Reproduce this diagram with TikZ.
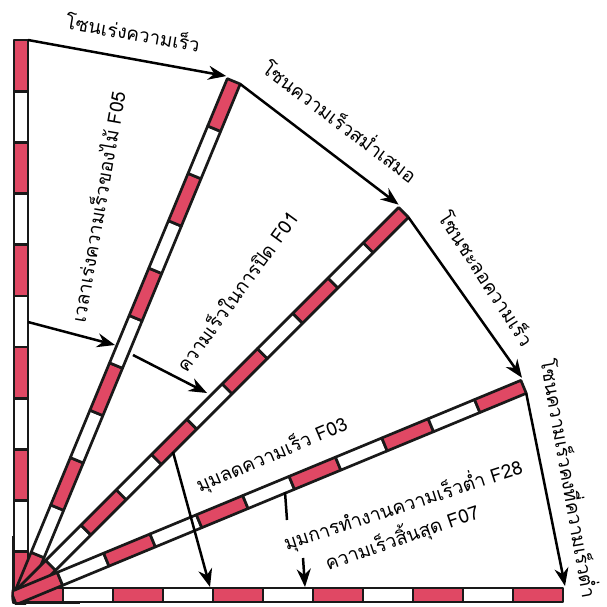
\documentclass[tikz,border=0pt]{standalone}
\usepackage{fontspec}
\newfontfamily\thaifont[Script=Thai]{Loma}
\usetikzlibrary{arrows.meta}
\definecolor{barred}{RGB}{224,72,100}
\tikzset{
  zonearrow/.style={line width=2.5pt,-{Stealth[length=18pt,width=14pt]}},
  zonetext/.style={font=\thaifont\fontsize{19}{22}\selectfont,inner sep=0pt},
  barpart/.style={line width=2.7pt,draw=black!90,line join=round}
}
\begin{document}
\begin{tikzpicture}[x=1pt,y=1pt]
  \useasboundingbox (0,0) rectangle (607,606);

  % the five bars, all turning round one corner
  \begin{scope}
    \clip (11.5,1.5) rectangle (607,606);
    \foreach \n/\ang/\len in {bE/0/542, bA/90/555, bB/67.5/556, bC/45/541, bD/22.5/544} {
      \begin{scope}[shift={(21,11)},rotate=\ang]
        \pgfmathsetmacro{\seg}{(\len+8)/11}
        \foreach \i in {0,...,10} {
          \pgfmathsetmacro{\a}{-8+\i*\seg}
          \pgfmathsetmacro{\b}{-8+(\i+1)*\seg}
          \ifodd\i \def\c{white}\else \def\c{barred}\fi
          \draw[barpart,fill=\c] (\a,-7) rectangle (\b,7);
        }
        \coordinate (\n-out) at (\len,-7);
        \coordinate (\n-in) at (\len+2,9);
      \end{scope}
    }
  \end{scope}
  \draw[barpart] (13,70) -- (13,3) -- (80,3);

  % zone arrows from bar end to bar end
  \foreach \from/\to in {bA/bB, bB/bC, bC/bD, bD/bE}
  \draw[zonearrow] (\from-out) -- (\to-in);

  % angle and speed pointers
  \coordinate (f05a) at (28,284);
  \coordinate (f05b) at (115,261);
  \coordinate (f01a) at (133,251);
  \coordinate (f01b) at (207,213);
  \coordinate (f03a) at (173,154);
  \coordinate (f03b) at (210,19);
  \coordinate (f28a) at (285,114);
  \coordinate (f28b) at (287,86);
  \coordinate (f07a) at (303,48);
  \coordinate (f07b) at (305,19);

  \foreach \from/\to in {f05a/f05b, f01a/f01b, f03a/f03b, f07a/f07b}
  \draw[zonearrow] (\from) -- (\to);
  \draw[line width=2.5pt] (f28a) -- (f28b);

  \node[zonetext,rotate=-10] (tAccel) at (133,574) {โซนเร่งความเร็ว};
  \node[zonetext,rotate=-37] (tConst) at (341,486) {โซนความเร็วสม่ำเสมอ};
  \node[zonetext,rotate=-57] (tDecel) at (487,328) {โซนชะลอความเร็ว};
  \node[zonetext,rotate=-80] (tLow) at (571,128) {โซนความเร็วคงที่ความเร็วต่ำ};
  \node[zonetext,rotate=80] (tF05) at (97,399) {เวลาเร่งความเร็วของไม้ F05};
  \node[zonetext,rotate=54] (tF01) at (236,315) {ความเร็วในการปิด F01};
  \node[zonetext,rotate=23] (tF03) at (272,151) {มุมลดความเร็ว F03};
  \node[zonetext,rotate=18] (tF28) at (403,101) {มุมการทำงานความเร็วต่ำ F28};
  \node[zonetext,rotate=19] (tF07) at (402,69) {ความเร็วสิ้นสุด F07};
\end{tikzpicture}
\end{document}
